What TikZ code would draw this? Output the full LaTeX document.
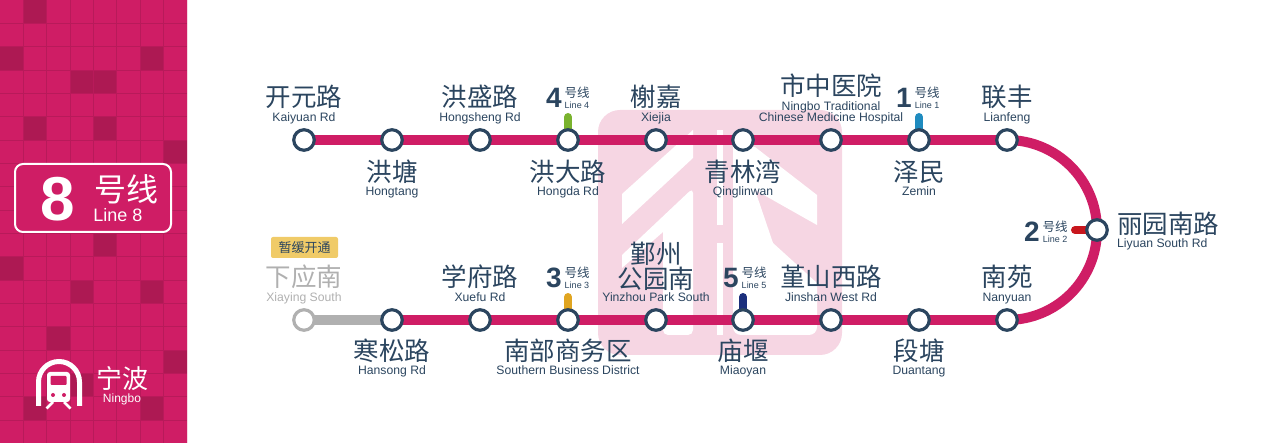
\documentclass[tikz,border=0pt]{standalone}
\usepackage{fontspec}
\setmainfont{Liberation Sans}
\newfontfamily\cjk{Noto Sans CJK SC}
\definecolor{mred}{HTML}{CF1D65}
\definecolor{mdark}{HTML}{AD1953}
\definecolor{mgrid}{HTML}{B81A5A}
\definecolor{mink}{HTML}{2B455F}
\definecolor{mgray}{HTML}{B0B0B0}
\definecolor{mwash}{HTML}{F6D6E3}
\definecolor{mgold}{HTML}{F0CB68}
\definecolor{lOne}{HTML}{1F8BBF}
\definecolor{lTwo}{HTML}{C8161D}
\definecolor{lThree}{HTML}{E0A521}
\definecolor{lFour}{HTML}{7AB32E}
\definecolor{lFive}{HTML}{1B2F7C}
\pgfdeclarelayer{wash}
\pgfdeclarelayer{rails}
\pgfsetlayers{wash,rails,main}
\tikzset{
  stn/.style={circle,draw=mink,line width=3.2pt,fill=white,minimum size=20.5pt,inner sep=0pt},
  stngray/.style={stn,draw=mgray},
  rail/.style={draw=mred,line width=10pt},
  railgray/.style={draw=mgray,line width=10pt},
  stub/.style={line width=8pt,line cap=round},
  cnl/.style={inner sep=0pt,text=mink,font=\cjk\fontsize{25.5}{25.5}\selectfont},
  enl/.style={inner sep=0pt,text=mink,yshift=-1pt,text height=8.5pt,text depth=0.5pt,font=\fontsize{12.2}{12.2}\selectfont},
  numl/.style={inner sep=0pt,text=mink,font=\bfseries\fontsize{28}{28}\selectfont},
  hxl/.style={inner sep=0pt,text=mink,font=\cjk\fontsize{12.5}{12.5}\selectfont},
  linel/.style={inner sep=0pt,text=mink,text height=6pt,text depth=0pt,font=\fontsize{9}{9}\selectfont},
  washw/.style={fill=white,draw=none},
}
\newcommand{\lab}[6]{% name x y cn y en
  \node[cnl] (#1c) at (#2,#3) {#4};
  \node[enl] (#1e) at (#2,#5) {#6};}
\newcommand{\chip}[4]{% name x y number
  \node[numl] (#1n) at (#2+1,#3) {#4};
  \node[hxl] (#1h) at (#2+24,#3-5) {号线};
  \node[linel] (#1l) at (#2+24,#3+7.5) {Line #4};}
\begin{document}
\begin{tikzpicture}[x=1pt,y=-1pt]
\useasboundingbox (0,0) rectangle (1280,443);
% left panel
\fill[mred] (0,0) rectangle (187,443);
\foreach \c/\r in {1/0,0/2,6/2,3/3,4/3,1/5,4/5,7/6,4/10,0/11,3/12,6/12,2/14,7/15,3/16,1/17,6/17}{
  \fill[mdark] ({\c*23.33},{\r*23.33}) rectangle ({(\c+1)*23.33},{(\r+1)*23.33});}
\foreach \c in {1,...,7}{\draw[mgrid,line width=0.7pt] ({\c*23.33},0) -- ({\c*23.33},443);}
\foreach \r in {1,...,18}{\draw[mgrid,line width=0.7pt] (0,{\r*23.33}) -- (187,{\r*23.33});}
\fill[mwash] (187,0) rectangle (188.2,443);
% line badge
\node[draw=white,line width=2pt,fill=mred,rounded corners=8pt,minimum width=156pt,minimum height=68pt,inner sep=0pt] (badge) at (93,198) {};
\node[inner sep=0pt,text=white,font=\bfseries\fontsize{62}{62}\selectfont] (bnum) at (58,199) {8};
\node[inner sep=0pt,text=white,font=\cjk\fontsize{32}{32}\selectfont] (bhx) at (126,189) {号线};
\node[inner sep=0pt,text=white,text height=12pt,text depth=0pt,font=\fontsize{18}{18}\selectfont] (bline) at (118,215.5) {Line 8};
% logo
\draw[white,line width=5pt] (38.5,406) -- (38.5,382) arc[start angle=180,end angle=360,radius=20.5] -- (79.5,406);
\fill[white,rounded corners=3pt] (47,372) rectangle (70,402);
\fill[mred,rounded corners=1pt] (50.5,376) rectangle (66.5,385);
\fill[mred] (53,395) circle (2pt) (64,395) circle (2pt);
\draw[white,line width=2.5pt] (53,402) -- (46.5,408.5) (64,402) -- (70.5,408.5);
\node[inner sep=0pt,text=white,font=\cjk\fontsize{26}{26}\selectfont] (city) at (122,379) {宁波};
\node[inner sep=0pt,text=white,text height=8.5pt,text depth=0.5pt,font=\fontsize{12}{12}\selectfont] (cityen) at (122,398.5) {Ningbo};
% watermark
\begin{pgfonlayer}{wash}
\fill[mwash,rounded corners=22pt] (598,110) rectangle (842,355);
\fill[washw] (622,194) -- (693,130) -- (693,158) -- (622,224) -- cycle;
\fill[washw] (693,188) -- (622,255) -- (622,268) -- (663,232) -- (663,328) [rounded corners=5pt] -- (663,335) -- (693,335) -- cycle;
\fill[washw] (717,130) rectangle (723,225);
\fill[washw] (717,243) rectangle (723,335);
\fill[washw] (733,147) -- (755,147) -- (817,195) -- (817,225) -- (755,190) -- (773,243) -- (817,283) [rounded corners=8pt] -- (817,335) -- (733,335) [sharp corners] -- cycle;
\end{pgfonlayer}
% stations
\foreach \n/\x in {a1/304,a2/392,a3/480,a4/568,a5/656,a6/743,a7/831,a8/919,a9/1007}{\node[stn] (\n) at (\x,140) {};}
\foreach \n/\x in {b2/392,b3/480,b4/568,b5/656,b6/743,b7/831,b8/919,b9/1007}{\node[stn] (\n) at (\x,320) {};}
\node[stngray] (b1) at (304,320) {};
\node[stn] (m) at (1097,230) {};
% rails and transfer stubs
\begin{pgfonlayer}{rails}
\draw[rail] (a1.center) -- (a2.center) -- (a3.center) -- (a4.center) -- (a5.center) -- (a6.center) -- (a7.center) -- (a8.center) -- (a9.center);
\draw[rail] (a9.center) to[out=0,in=90] (m.center) to[out=-90,in=0] (b9.center);
\draw[rail] (b9.center) -- (b8.center) -- (b7.center) -- (b6.center) -- (b5.center) -- (b4.center) -- (b3.center) -- (b2.center);
\draw[railgray] (b2.center) -- (b1.center);
\coordinate (s4) at (568,117);
\coordinate (s1) at (919,117);
\coordinate (s3) at (568,297);
\coordinate (s5) at (743,297);
\coordinate (s2) at (1075,230);
\draw[stub,lFour] (s4) -- (a4.center);
\draw[stub,lOne] (s1) -- (a8.center);
\draw[stub,lThree] (s3) -- (b4.center);
\draw[stub,lFive] (s5) -- (b6.center);
\draw[stub,lTwo] (s2) -- (m.center);
\end{pgfonlayer}
% upper row labels
\lab{t1}{304}{97}{开元路}{117}{Kaiyuan Rd}
\lab{t2}{392}{172}{洪塘}{191}{Hongtang}
\lab{t3}{480}{97}{洪盛路}{117}{Hongsheng Rd}
\lab{t4}{568}{172}{洪大路}{191}{Hongda Rd}
\lab{t5}{656}{97}{榭嘉}{117}{Xiejia}
\lab{t6}{743}{172}{青林湾}{191}{Qinglinwan}
\node[cnl] (t7c) at (831,86) {市中医院};
\node[enl] (t7e) at (831,105.5) {Ningbo Traditional};
\node[enl] (t7f) at (831,117) {Chinese Medicine Hospital};
\lab{t8}{919}{172}{泽民}{191}{Zemin}
\lab{t9}{1007}{97}{联丰}{117}{Lianfeng}
% right station
\node[cnl,anchor=west] (mc) at (1117,224) {丽园南路};
\node[enl,anchor=west] (me) at (1117,243) {Liyuan South Rd};
% lower row labels
\node[inner sep=0pt,fill=mgold,rounded corners=2pt,minimum width=67pt,minimum height=21pt,text=mink,font=\cjk\fontsize{13}{13}\selectfont] (tag) at (304.5,247.5) {暂缓开通};
\node[cnl,text=mgray] (u1c) at (304,277) {下应南};
\node[enl,text=mgray] (u1e) at (304,297) {Xiaying South};
\lab{u2}{392}{351}{寒松路}{370}{Hansong Rd}
\lab{u3}{480}{277}{学府路}{297}{Xuefu Rd}
\lab{u4}{568}{351}{南部商务区}{370}{Southern Business District}
\node[cnl] (u5a) at (656,254) {鄞州};
\lab{u5}{656}{279}{公园南}{297}{Yinzhou Park South}
\lab{u6}{743}{351}{庙堰}{370}{Miaoyan}
\lab{u7}{831}{277}{堇山西路}{297}{Jinshan West Rd}
\lab{u8}{919}{351}{段塘}{370}{Duantang}
\lab{u9}{1007}{277}{南苑}{297}{Nanyuan}
% transfer chips
\chip{c4}{553}{98}{4}
\chip{c1}{903}{98}{1}
\chip{c3}{553}{278}{3}
\chip{c5}{730}{278}{5}
\chip{c2}{1031}{232}{2}
\end{tikzpicture}
\end{document}
